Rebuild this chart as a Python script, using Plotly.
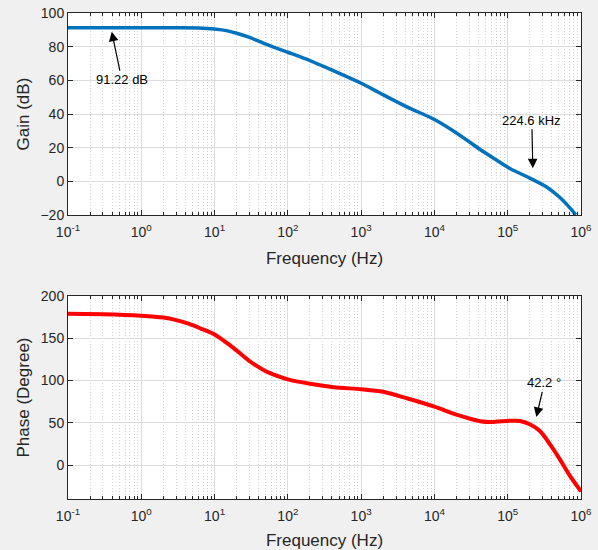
import plotly.graph_objects as go
import numpy as np

freq_gain = [0.1, 0.3, 1, 3, 6, 10, 15, 20, 30, 50, 100, 200, 300, 1000, 1800, 4200, 1e4, 2.05e4,
             4.2e4, 7.1e4, 1.07e5, 2e5, 3.4e5, 5.2e5, 7e5, 8.5e5]
gain_db = [91.22, 91.22, 91.2, 91.2, 91.1, 90.5, 89.4, 88.0, 85.5, 81.5, 76.7, 71.8, 68.5, 58.3,
           52.5, 44.3, 36.8, 28.5, 19.0, 12.6, 7.7, 2.0, -3.3, -9.7, -15.5, -19.8]

freq_phase = [0.1, 0.3, 1, 2, 3, 4.5, 6.5, 10, 15, 20, 30, 50, 63, 100, 200, 425, 1000, 2000, 4200,
              1e4, 2.05e4, 4.2e4, 6e4, 1.07e5, 1.47e5, 2e5, 2.75e5, 3.8e5, 5.2e5, 7e5, 1e6]
phase_deg = [179, 178.5, 176.7, 174.5, 171.5, 167.0, 161.5, 154.5, 144, 135.5, 123, 111, 107.3,
             101.4, 96.2, 92.1, 89.8, 86.8, 79.1, 69.2, 59.4, 52.0, 51.0, 52.5, 52.3, 48.3, 40.3,
             24.3, 6.3, -12, -31]

xtick_vals = [0.1, 1, 10, 100, 1e3, 1e4, 1e5, 1e6]
xtick_text = ["10<sup>-1</sup>", "10<sup>0</sup>", "10<sup>1</sup>", "10<sup>2</sup>",
              "10<sup>3</sup>", "10<sup>4</sup>", "10<sup>5</sup>", "10<sup>6</sup>"]
minor_x_vals = [m * d for d in [0.1, 1, 10, 100, 1e3, 1e4, 1e5] for m in range(2, 10)]
gain_ticks = [-20, 0, 20, 40, 60, 80, 100]
phase_ticks = [0, 50, 100, 150, 200]

annot_gain_dc = (0.395, 88.9, "91.22 dB")
annot_gain_cross = (2.2e5, 7.8, "224.6 kHz")
annot_phase = (2.46e5, 57, "42.2 °")

FONT = "Liberation Sans, Arial, sans-serif"
AX = "#262626"

fig = go.Figure()
fig.add_trace(go.Scatter(x=freq_gain, y=gain_db, mode="lines",
                         line=dict(color="#0072BD", width=3.5, shape="spline", smoothing=0.8),
                         xaxis="x", yaxis="y", showlegend=False, hoverinfo="skip"))
fig.add_trace(go.Scatter(x=freq_phase, y=phase_deg, mode="lines",
                         line=dict(color="#FF0000", width=4, shape="spline", smoothing=0.8),
                         xaxis="x2", yaxis="y2", showlegend=False, hoverinfo="skip"))

def xaxis_cfg(anchor):
    return dict(type="log", range=[-1, 6], tickvals=xtick_vals, ticktext=xtick_text,
                ticks="inside", ticklen=5, tickcolor=AX, showline=True, linecolor=AX, linewidth=1,
                mirror="ticks", showgrid=True, gridcolor="#dcdcdc", gridwidth=1,
                minor=dict(tickmode="array", tickvals=minor_x_vals, ticks="inside", ticklen=3,
                           tickcolor=AX, showgrid=True, gridcolor="#d4d4d4", griddash="1px,2px", gridwidth=1),
                tickfont=dict(family=FONT, size=14, color=AX), ticklabelstandoff=4,
                title=dict(text="Frequency (Hz)", font=dict(family=FONT, size=17, color=AX), standoff=13),
                anchor=anchor, zeroline=False, automargin=False)

def yaxis_cfg(anchor, rng, ticks, title, domain):
    return dict(range=rng, tickvals=ticks, ticks="inside", ticklen=5, tickcolor=AX,
                showline=True, linecolor=AX, linewidth=1, mirror="ticks",
                showgrid=True, gridcolor="#dcdcdc", zeroline=False,
                tickfont=dict(family=FONT, size=14, color=AX),
                title=dict(text=title, font=dict(family=FONT, size=17, color=AX), standoff=6),
                anchor=anchor, domain=domain, automargin=False)

fig.update_layout(
    width=598, height=550,
    paper_bgcolor="#f0f0f0", plot_bgcolor="#ffffff",
    margin=dict(l=68, r=17, t=13, b=51, autoexpand=False),
    xaxis=xaxis_cfg("y"),
    xaxis2=xaxis_cfg("y2"),
    yaxis=yaxis_cfg("x", [-20, 100], gain_ticks, "Gain (dB)", [0.584, 1.0]),
    yaxis2=yaxis_cfg("x2", [-40, 200], phase_ticks, "Phase (Degree)", [0.0, 0.4177]),
)

def add_arrow(xref, yref, pt, ax, ay):
    fig.add_annotation(x=np.log10(pt[0]), y=pt[1], xref=xref, yref=yref, text=pt[2],
                       showarrow=True, ax=ax, ay=ay, arrowhead=2, arrowsize=1.6, arrowwidth=1.2,
                       arrowcolor="#000000", font=dict(family=FONT, size=13, color="#000000"))

add_arrow("x", "y", annot_gain_dc, 10, 48)
add_arrow("x", "y", annot_gain_cross, -1, -48)
add_arrow("x2", "y2", annot_phase, 8, -34)

fig.write_html("out.html", config={"displayModeBar": False},
               post_script="document.body.style.margin='0';document.body.style.background='#f0f0f0';")
